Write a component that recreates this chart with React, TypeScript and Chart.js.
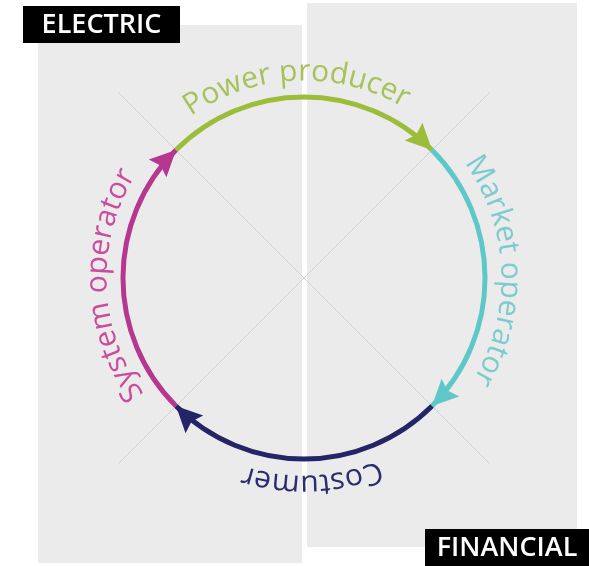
import React, { useEffect, useRef } from "react";
import { Chart, registerables } from "chart.js";

Chart.register(...registerables);

// ---- data ----
const roles = ["Power producer", "Market operator", "Costumer", "System operator"];
const shares = [1, 1, 1, 1];
const arcColors = ["#9cbd3a", "#5ec8c8", "#232566", "#b5378f"];
const textColors = ["#a6c25a", "#7ccbcd", "#2b2d6e", "#c94c9e"];
const domains = ["ELECTRIC", "FINANCIAL"];

const FONT = '"Open Sans", "DejaVu Sans", sans-serif';

function drawCurvedText(ctx: CanvasRenderingContext2D, text: string, cx: number, cy: number, R: number, centerAngle: number) {
  const total = ctx.measureText(text).width;
  let a = centerAngle - total / R / 2;
  for (const ch of text) {
    const w = ctx.measureText(ch).width;
    const ang = a + w / 2 / R;
    ctx.save();
    ctx.translate(cx + R * Math.cos(ang), cy + R * Math.sin(ang));
    ctx.rotate(ang + Math.PI / 2);
    ctx.fillText(ch, 0, 0);
    ctx.restore();
    a += w / R;
  }
}

const backgroundPlugin = {
  id: "background",
  beforeDraw(chart: any) {
    const ctx = chart.ctx as CanvasRenderingContext2D;
    const meta = chart.getDatasetMeta(0);
    const el = meta.data[0];
    if (!el) return;
    const cx = el.x, cy = el.y;
    const r = el.outerRadius + 2;
    ctx.save();
    ctx.fillStyle = "#ebebeb";
    ctx.fillRect(38, 25, 264, 538);
    ctx.fillRect(307, 3, 270, 544);
    ctx.strokeStyle = "#cfcfcf";
    ctx.lineWidth = 1;
    ctx.beginPath();
    ctx.moveTo(cx - r, cy - r);
    ctx.lineTo(cx + r, cy + r);
    ctx.moveTo(cx + r, cy - r);
    ctx.lineTo(cx - r, cy + r);
    ctx.stroke();
    ctx.restore();
  },
};

const overlayPlugin = {
  id: "overlay",
  afterDatasetsDraw(chart: any) {
    const ctx = chart.ctx as CanvasRenderingContext2D;
    const meta = chart.getDatasetMeta(0);
    ctx.save();
    meta.data.forEach((el: any, i: number) => {
      const cx = el.x, cy = el.y;
      const rm = (el.outerRadius + el.innerRadius) / 2;
      const a = el.endAngle;
      const px = cx + rm * Math.cos(a), py = cy + rm * Math.sin(a);
      const dx = -Math.sin(a), dy = Math.cos(a);
      const nx = Math.cos(a), ny = Math.sin(a);
      const L = 26, W = 25;
      const bx = px - L * dx, by = py - L * dy;
      ctx.fillStyle = arcColors[i];
      ctx.beginPath();
      ctx.moveTo(px, py);
      ctx.lineTo(bx + (W / 2) * nx, by + (W / 2) * ny);
      ctx.lineTo(bx + 4 * dx, by + 4 * dy);
      ctx.lineTo(bx - (W / 2) * nx, by - (W / 2) * ny);
      ctx.closePath();
      ctx.fill();

      ctx.fillStyle = textColors[i];
      ctx.font = `30px ${FONT}`;
      ctx.textAlign = "center";
      ctx.textBaseline = "alphabetic";
      drawCurvedText(ctx, roles[i], cx, cy, el.outerRadius + 14, (el.startAngle + el.endAngle) / 2 - 0.04);
    });

    // domain labels
    ctx.font = `600 27px ${FONT}`;
    ctx.textBaseline = "middle";
    ctx.textAlign = "center";
    const boxes = [
      [23, 6, 157, 37],
      [425, 529, 164, 37],
    ];
    boxes.forEach((b, i) => {
      ctx.fillStyle = "#000000";
      ctx.fillRect(b[0], b[1], b[2], b[3]);
      ctx.fillStyle = "#ffffff";
      ctx.fillText(domains[i], b[0] + b[2] / 2, b[1] + b[3] / 2 + 1);
    });
    ctx.restore();
  },
};

export default function App() {
  const ref = useRef<HTMLCanvasElement | null>(null);
  useEffect(() => {
    if (!ref.current) return;
    const chart = new Chart(ref.current, {
      type: "doughnut",
      data: {
        labels: roles,
        datasets: [
          {
            data: shares,
            backgroundColor: arcColors,
            borderWidth: 0,
            hoverOffset: 0,
          },
        ],
      },
      options: {
        animation: false,
        responsive: false,
        rotation: -45,
        radius: 183.5,
        cutout: "97.3%",
        layout: { padding: { left: 19, right: 0, top: 0, bottom: 10 } },
        plugins: {
          legend: { display: false },
          tooltip: { enabled: false },
        },
        events: [],
      } as any,
      plugins: [backgroundPlugin, overlayPlugin],
    });
    return () => chart.destroy();
  }, []);
  return (
    <div style={{ position: "fixed", left: 0, top: 0, width: 589, height: 566, background: "#ffffff" }}>
      <canvas ref={ref} width={589} height={566} style={{ width: 589, height: 566 }} />
    </div>
  );
}
